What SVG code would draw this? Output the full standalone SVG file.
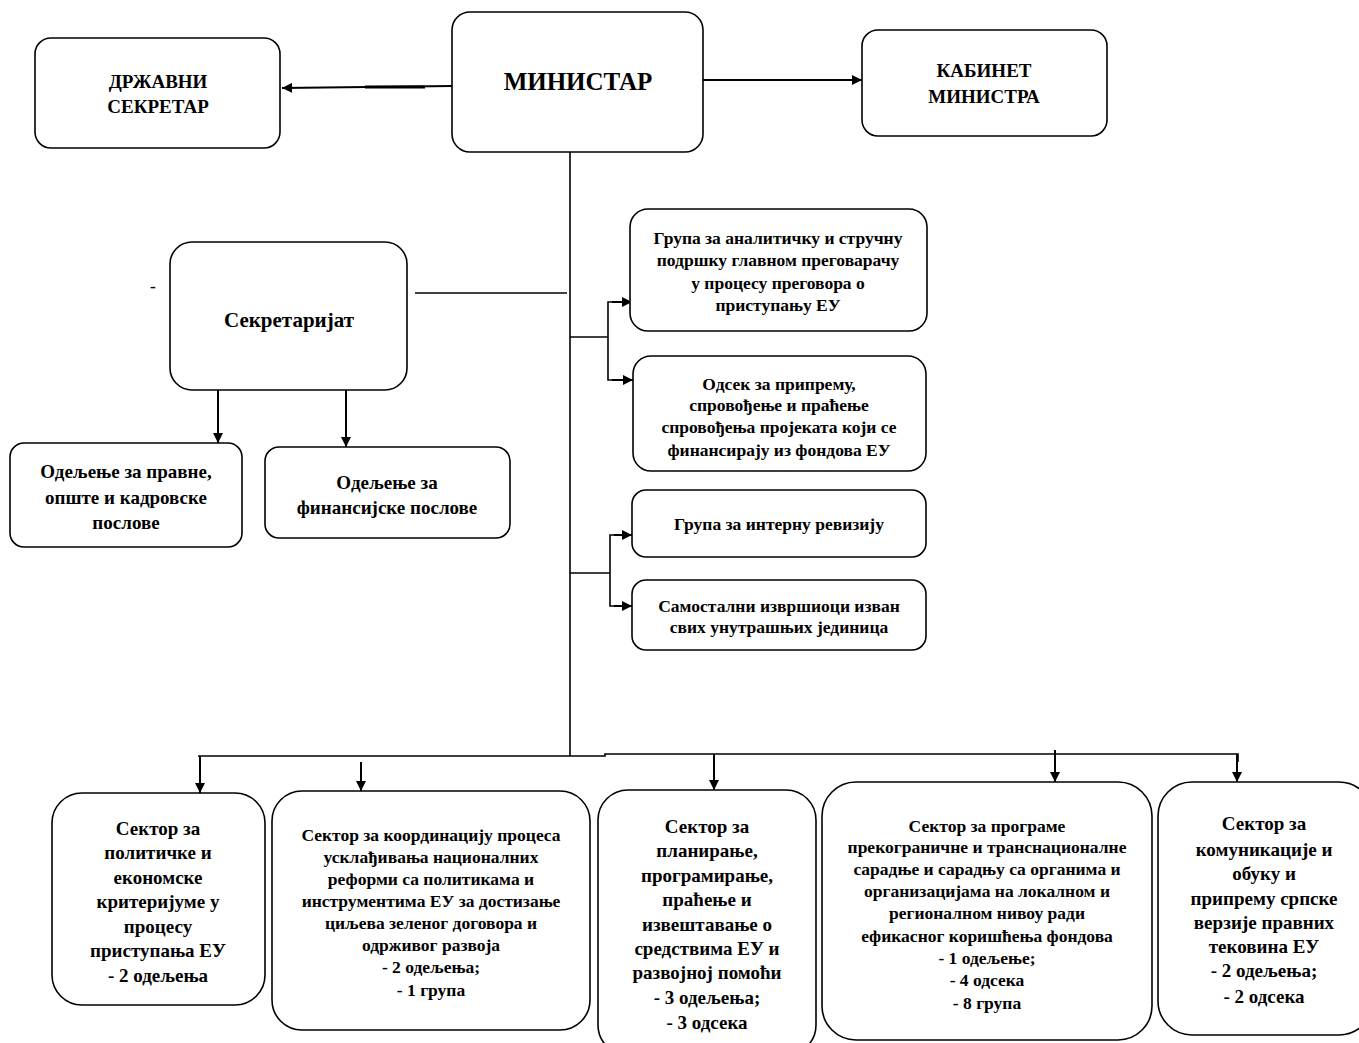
<svg xmlns="http://www.w3.org/2000/svg" width="1359" height="1043" viewBox="0 0 1359 1043">
<defs>
<marker id="ah" viewBox="0 0 10 10" refX="10" refY="5" markerWidth="10" markerHeight="10" markerUnits="userSpaceOnUse" orient="auto">
<path d="M0,0 L10,5 L0,10 z" fill="#000"/>
</marker>
<style>
.box{fill:#fff;stroke:#000;stroke-width:1.6}
.t{font-family:"Liberation Serif","Times New Roman",serif;font-weight:bold;font-size:17.5px;fill:#000;text-anchor:middle}
.l{font-size:19px}
.big{font-size:25px}
.sek{font-size:21px}
.c{fill:none;stroke:#000;stroke-width:1.6}
.a{fill:none;stroke:#000;stroke-width:2;marker-end:url(#ah)}
</style>
</defs>
<rect width="1359" height="1043" fill="#fff"/>

<g id="connectors">
<line class="a" x1="452" y1="86" x2="282" y2="88"/>
<line x1="365" y1="87" x2="425" y2="87" stroke="#000" stroke-width="3"/>
<line class="a" x1="703" y1="80" x2="862" y2="80"/>
<line class="c" x1="570" y1="152" x2="570" y2="756"/>
<line class="c" x1="415" y1="293" x2="567" y2="293"/>
<line class="a" x1="218" y1="390" x2="218" y2="443"/>
<line class="a" x1="346" y1="390" x2="346" y2="447"/>
<line class="c" x1="570" y1="337" x2="608" y2="337"/>
<polyline class="c" points="630,302 608,302 608,380 630,380"/>
<line class="a" x1="612" y1="302" x2="632" y2="302"/>
<line class="a" x1="612" y1="380" x2="633" y2="380"/>
<line class="c" x1="570" y1="573" x2="610" y2="573"/>
<polyline class="c" points="630,535 610,535 610,606 630,606"/>
<line class="a" x1="614" y1="535" x2="632" y2="535"/>
<line class="a" x1="614" y1="606" x2="632" y2="606"/>
<polyline class="c" points="198,756 605,756 605,754 1238,754 1238,762"/>
<line class="a" x1="200" y1="756" x2="200" y2="793"/>
<line class="a" x1="361" y1="762" x2="361" y2="791"/>
<line class="a" x1="714" y1="754" x2="714" y2="790"/>
<line class="a" x1="1055" y1="750" x2="1055" y2="782"/>
<line class="a" x1="1237" y1="754" x2="1237" y2="782"/>
</g>

<g id="drzavni-sekretar">
<rect class="box" x="35" y="38" width="245" height="110" rx="16"/>
<text class="t l" x="158" y="88">ДРЖАВНИ</text>
<text class="t l" x="158" y="113">СЕКРЕТАР</text>
</g>

<g id="ministar">
<rect class="box" x="452" y="12" width="251" height="140" rx="18"/>
<text class="t big" x="578" y="90">МИНИСТАР</text>
</g>

<g id="kabinet">
<rect class="box" x="862" y="30" width="245" height="106" rx="16"/>
<text class="t l" x="984" y="77">КАБИНЕТ</text>
<text class="t l" x="984" y="103">МИНИСТРА</text>
</g>

<text class="t" x="153" y="292">-</text>

<g id="sekretarijat">
<rect class="box" x="170" y="242" width="237" height="148" rx="22"/>
<text class="t sek" x="289" y="327">Секретаријат</text>
</g>

<g id="odeljenje-pravne">
<rect class="box" x="10" y="443" width="232" height="104" rx="14"/>
<text class="t l" x="126" y="478">Одељење за правне,</text>
<text class="t l" x="126" y="504">опште и кадровске</text>
<text class="t l" x="126" y="529">послове</text>
</g>

<g id="odeljenje-finansijske">
<rect class="box" x="265" y="447" width="245" height="91" rx="14"/>
<text class="t l" x="387" y="489">Одељење за</text>
<text class="t l" x="387" y="514">финансијске послове</text>
</g>

<g id="grupa-analiticku">
<rect class="box" x="630" y="209" width="297" height="122" rx="18"/>
<text class="t" x="778" y="244">Група за аналитичку и стручну</text>
<text class="t" x="778" y="266">подршку главном преговарачу</text>
<text class="t" x="778" y="289">у процесу преговора о</text>
<text class="t" x="778" y="311">приступању ЕУ</text>
</g>

<g id="odsek-pripremu">
<rect class="box" x="633" y="356" width="293" height="115" rx="18"/>
<text class="t" x="779" y="390">Одсек за припрему,</text>
<text class="t" x="779" y="411">спровођење и праћење</text>
<text class="t" x="779" y="433">спровођења пројеката који се</text>
<text class="t" x="779" y="456">финансирају из фондова ЕУ</text>
</g>

<g id="grupa-revizija">
<rect class="box" x="632" y="490" width="294" height="67" rx="14"/>
<text class="t" x="779" y="530">Група за интерну ревизију</text>
</g>

<g id="samostalni">
<rect class="box" x="632" y="580" width="294" height="70" rx="14"/>
<text class="t" x="779" y="612">Самостални извршиоци изван</text>
<text class="t" x="779" y="633">свих унутрашњих јединица</text>
</g>

<g id="sektor-politicke">
<rect class="box" x="52" y="793" width="213" height="212" rx="30"/>
<text class="t l" x="158" y="835">Сектор за</text>
<text class="t l" x="158" y="859">политичке и</text>
<text class="t l" x="158" y="884">економске</text>
<text class="t l" x="158" y="908">критеријуме у</text>
<text class="t l" x="158" y="933">процесу</text>
<text class="t l" x="158" y="957">приступања ЕУ</text>
<text class="t l" x="158" y="982">- 2 одељења</text>
</g>

<g id="sektor-koordinaciju">
<rect class="box" x="272" y="791" width="318" height="239" rx="30"/>
<text class="t" x="431" y="841">Сектор за координацију процеса</text>
<text class="t" x="431" y="863">усклађивања националних</text>
<text class="t" x="431" y="885">реформи са политикама и</text>
<text class="t" x="431" y="907">инструментима ЕУ за достизање</text>
<text class="t" x="431" y="929">циљева зеленог договора и</text>
<text class="t" x="431" y="951">одрживог развоја</text>
<text class="t" x="431" y="973">- 2 одељења;</text>
<text class="t" x="431" y="996">- 1 група</text>
</g>

<g id="sektor-planiranje">
<rect class="box" x="598" y="790" width="218" height="265" rx="30"/>
<text class="t l" x="707" y="833">Сектор за</text>
<text class="t l" x="707" y="857">планирање,</text>
<text class="t l" x="707" y="882">програмирање,</text>
<text class="t l" x="707" y="906">праћење и</text>
<text class="t l" x="707" y="931">извештавање о</text>
<text class="t l" x="707" y="955">средствима ЕУ и</text>
<text class="t l" x="707" y="979">развојној помоћи</text>
<text class="t l" x="707" y="1004">- 3 одељења;</text>
<text class="t l" x="707" y="1029">- 3 одсека</text>
</g>

<g id="sektor-programe">
<rect class="box" x="822" y="782" width="330" height="258" rx="34"/>
<text class="t" x="987" y="832">Сектор за програме</text>
<text class="t" x="987" y="853">прекограничне и транснационалне</text>
<text class="t" x="987" y="875">сарадње и сарадњу са органима и</text>
<text class="t" x="987" y="897">организацијама на локалном и</text>
<text class="t" x="987" y="919">регионалном нивоу ради</text>
<text class="t" x="987" y="942">ефикасног коришћења фондова</text>
<text class="t" x="987" y="964">- 1 одељење;</text>
<text class="t" x="987" y="986">- 4 одсека</text>
<text class="t" x="987" y="1009">- 8 група</text>
</g>

<g id="sektor-komunikacije">
<rect class="box" x="1158" y="782" width="215" height="253" rx="34"/>
<text class="t l" x="1264" y="830">Сектор за</text>
<text class="t l" x="1264" y="856">комуникације и</text>
<text class="t l" x="1264" y="880">обуку и</text>
<text class="t l" x="1264" y="905">припрему српске</text>
<text class="t l" x="1264" y="929">верзије правних</text>
<text class="t l" x="1264" y="953">тековина ЕУ</text>
<text class="t l" x="1264" y="977">- 2 одељења;</text>
<text class="t l" x="1264" y="1003">- 2 одсека</text>
</g>
</svg>
